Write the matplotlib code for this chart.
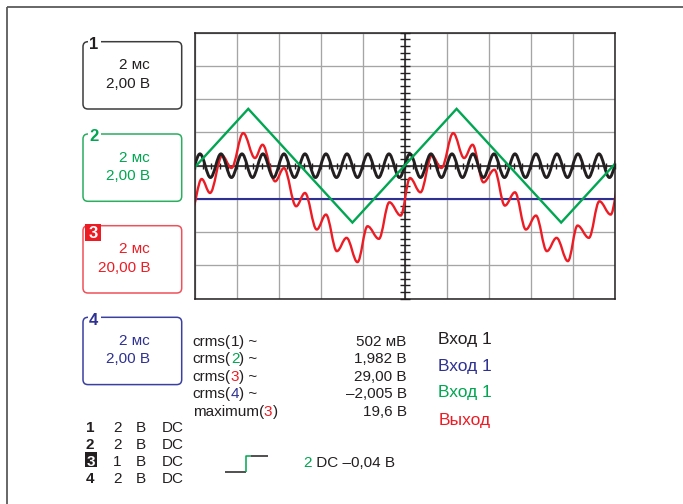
import numpy as np
import matplotlib
matplotlib.use("Agg")
import matplotlib.pyplot as plt
from matplotlib.path import Path
from matplotlib.patches import PathPatch, FancyBboxPatch, Rectangle

plt.rcParams['font.family'] = ['Liberation Sans', 'DejaVu Sans']

# ---------------- data ----------------
ms_per_div = 2.0
volts_per_div = [2.0, 2.0, 20.0, 2.0]          # channels 1..4

# channel 1 (black sine): extrema (ms, V)
ch1_t = [-0.24, 0.26, 0.76, 1.26, 1.76, 2.26, 2.76, 3.26, 3.76, 4.26,
         4.76, 5.26, 5.76, 6.26, 6.76, 7.26, 7.76, 8.26, 8.76, 9.26,
         9.76, 10.26, 10.76, 11.26, 11.76, 12.26, 12.76, 13.26, 13.76, 14.26,
         14.76, 15.26, 15.76, 16.26, 16.76, 17.26, 17.76, 18.26, 18.76, 19.26,
         19.76, 20.26]
ch1_v = [-0.71, 0.71, -0.71, 0.71, -0.71, 0.71, -0.71, 0.71, -0.71, 0.71,
         -0.71, 0.71, -0.71, 0.71, -0.71, 0.71, -0.71, 0.71, -0.71, 0.71,
         -0.71, 0.71, -0.71, 0.71, -0.71, 0.71, -0.71, 0.71, -0.71, 0.71,
         -0.71, 0.71, -0.71, 0.71, -0.71, 0.71, -0.71, 0.71, -0.71, 0.71,
         -0.71, 0.71]

# channel 2 (green triangle): vertices (ms, V)
ch2_t = [0.0, 2.56, 7.52, 12.48, 17.46, 20.0]
ch2_v = [-0.11, 3.42, -3.42, 3.42, -3.42, 0.08]

# channel 3 (red output): extrema (ms, V)
ch3_t = [-0.14, 0.34, 0.74, 1.32, 1.76, 2.32, 2.88, 3.24, 3.84, 4.26,
         4.84, 5.26, 5.82, 6.26, 6.78, 7.24, 7.76, 8.24, 8.78, 9.28,
         9.82, 10.26, 10.76, 11.30, 11.76, 12.32, 12.84, 13.24, 13.76, 14.28,
         14.78, 15.26, 15.78, 16.26, 16.78, 17.24, 17.78, 18.24, 18.78, 19.28,
         19.82, 20.26]
ch3_v = [-27.0, -8.0, -16.4, 6.0, -1.4, 19.6, 4.6, 12.6, -9.4, -1.4,
         -24.4, -16.4, -38.4, -29.4, -51.4, -43.4, -58.0, -36.4, -44.0, -22.0,
         -30.0, -7.4, -16.0, 6.0, -1.4, 19.6, 4.6, 12.6, -10.0, -2.4,
         -24.0, -16.0, -38.4, -30.0, -51.4, -43.4, -57.4, -36.0, -43.4, -21.4,
         -29.4, -7.4]

# channel 4 (blue DC level)
ch4_t = [0.0, 20.0]
ch4_v = [-2.005, -2.005]

box_time = ['2 мс', '2 мс', '2 мс', '2 мс']
box_volt = ['2,00 В', '2,00 В', '20,00 В', '2,00 В']

meas_func = ['crms', 'crms', 'crms', 'crms', 'maximum']
meas_ch = ['1', '2', '3', '4', '3']
meas_suffix = [' ~', ' ~', ' ~', ' ~', '']
meas_value = ['502 мВ', '1,982 В', '29,00 В', '–2,005 В', '19,6 В']

legend_labels = ['Вход 1', 'Вход 1', 'Вход 1', 'Выход']
legend_ch = [1, 4, 2, 3]

table_ch = ['1', '2', '3', '4']
table_scale = ['2', '2', '1', '2']
table_unit = ['В', 'В', 'В', 'В']
table_coupling = ['DC', 'DC', 'DC', 'DC']

trigger_ch = '2'
trigger_text = ' DC –0,04 В'

# ---------------- styles ----------------
C_BLACK = '#231f20'
C_GREEN = '#00a651'
C_RED = '#ed1c24'
C_BLUE = '#2e3192'
ch_color = {1: C_BLACK, 2: C_GREEN, 3: C_RED, 4: C_BLUE}
box_edge = ['#3c3c3c', '#2aae60', '#f0505a', '#3a40a0']

W, H = 683, 504
fig = plt.figure(figsize=(W / 100, H / 100), dpi=100)

# overlay axes in pixel coordinates
ov = fig.add_axes([0, 0, 1, 1])
ov.set_xlim(0, W)
ov.set_ylim(H, 0)
ov.axis('off')

# outer frame (top + left)
ov.plot([6.5, W], [6.5, 6.5], color='#5a5a5a', lw=1.3, solid_capstyle='butt')
ov.plot([6.5, 6.5], [6.5, H], color='#5a5a5a', lw=1.3, solid_capstyle='butt')

# ---------------- scope screen ----------------
gx0, gx1, gy0, gy1 = 194.5, 614.5, 32.7, 298.7
ax = fig.add_axes([gx0 / W, 1 - gy1 / H, (gx1 - gx0) / W, (gy1 - gy0) / H])
ax.set_xlim(0, 10 * ms_per_div)
ax.set_ylim(-4, 4)
ax.set_xticks(np.arange(0, 10 * ms_per_div + 0.01, ms_per_div))
ax.set_yticks(np.arange(-4, 5, 1))
ax.tick_params(length=0, labelbottom=False, labelleft=False)
ax.grid(True, color='#a5a5a5', lw=0.95)
ax.set_axisbelow(True)
for s in ax.spines.values():
    s.set_color(C_BLACK)
    s.set_linewidth(1.1)
    s.set_zorder(6)

ax.axhline(0, color=C_BLACK, lw=1.1, zorder=1)
ax.axvline(5 * ms_per_div, color=C_BLACK, lw=1.1, zorder=1)
tx = np.arange(0, 10 * ms_per_div + 0.01, ms_per_div / 5)
ax.plot(tx, np.zeros_like(tx), ls='none', marker='|', ms=5, mew=1.0,
        color=C_BLACK, zorder=1, clip_on=False)
ty = np.arange(-4, 4.01, 0.2)
ax.plot(np.full_like(ty, 5 * ms_per_div), ty, ls='none', marker='_', ms=6.5,
        mew=1.0, color=C_BLACK, zorder=1, clip_on=False)


def smooth_trace(t, v, scale, k=0.36):
    pts = [(t[0], v[0] / scale)]
    codes = [Path.MOVETO]
    for i in range(len(t) - 1):
        dt = t[i + 1] - t[i]
        y0, y1 = v[i] / scale, v[i + 1] / scale
        pts += [(t[i] + k * dt, y0), (t[i + 1] - k * dt, y1), (t[i + 1], y1)]
        codes += [Path.CURVE4] * 3
    return Path(pts, codes)


ax.plot(ch4_t, np.array(ch4_v) / volts_per_div[3], color=C_BLUE, lw=1.5, zorder=2)
ax.add_patch(PathPatch(smooth_trace(ch3_t, ch3_v, volts_per_div[2]),
                       fc='none', ec=C_RED, lw=1.7, zorder=3))
ax.add_patch(PathPatch(smooth_trace(ch1_t, ch1_v, volts_per_div[0]),
                       fc='none', ec=C_BLACK, lw=2.1, zorder=4))
ax.plot(ch2_t, np.array(ch2_v) / volts_per_div[1], color=C_GREEN, lw=1.7,
        zorder=5, solid_joinstyle='miter')

# ---------------- channel boxes ----------------
box_tops = [41.7, 134.0, 225.7, 317.3]
box_h = 67.3
for i in range(4):
    col = ch_color[i + 1]
    top = box_tops[i]
    ov.add_patch(FancyBboxPatch((83, top), 98.7, box_h,
                                boxstyle='round,pad=0,rounding_size=5',
                                fc='none', ec=box_edge[i], lw=1.1))
    ov.text(150, top + 27.6, box_time[i], ha='right', va='baseline',
            fontsize=11, color=col)
    ov.text(150, top + 46.0, box_volt[i], ha='right', va='baseline',
            fontsize=11, color=col)
    if i == 2:
        ov.add_patch(Rectangle((85, top - 1.7), 15.7, 16.7, fc=C_RED, ec='none'))
        ov.text(92.9, top + 12.6, '3', ha='center', va='baseline',
                fontsize=12, fontweight='bold', color='white')
    else:
        ov.add_patch(Rectangle((87.5, top - 3), 13, 6, fc='white', ec='none'))
        ov.text(93.8, top + 7.3, str(i + 1), ha='center', va='baseline',
                fontsize=12, fontweight='bold', color=col)

# ---------------- measurements ----------------
meas_base = [346.0, 363.4, 380.8, 398.2, 415.8]
for i in range(5):
    t1 = ov.text(192.7, meas_base[i], meas_func[i] + '(', ha='left',
                 va='baseline', fontsize=11, color=C_BLACK)
    cnum = int(meas_ch[i])
    t2 = ov.annotate(meas_ch[i], xy=(1, 0), xycoords=t1, ha='left', va='bottom',
                     fontsize=11, color=ch_color[cnum])
    ov.annotate(')' + meas_suffix[i], xy=(1, 0), xycoords=t2, ha='left',
                va='bottom', fontsize=11, color=C_BLACK)
    ov.text(406.7, meas_base[i], meas_value[i], ha='right', va='baseline',
            fontsize=11, color=C_BLACK)

leg_base = [344.0, 371.0, 397.3, 424.5]
for i in range(4):
    ov.text(438.3, leg_base[i], legend_labels[i], ha='left', va='baseline',
            fontsize=12.5, color=ch_color[legend_ch[i]])

# ---------------- bottom channel table ----------------
tab_base = [431.7, 448.6, 466.2, 483.3]
for i in range(4):
    if table_ch[i] == '3':
        ov.add_patch(Rectangle((85, tab_base[i] - 13.8), 11.7, 14.6,
                               fc=C_BLACK, ec='none'))
        ov.text(90.9, tab_base[i], table_ch[i], ha='center', va='baseline',
                fontsize=11, fontweight='bold', color='white')
    else:
        ov.text(90.0, tab_base[i], table_ch[i], ha='center', va='baseline',
                fontsize=11, fontweight='bold', color=C_BLACK)
    ov.text(117.2, tab_base[i], table_scale[i], ha='center', va='baseline',
            fontsize=11, color=C_BLACK)
    ov.text(141.2, tab_base[i], table_unit[i], ha='center', va='baseline',
            fontsize=11, color=C_BLACK)
    ov.text(161.7, tab_base[i], table_coupling[i], ha='left', va='baseline',
            fontsize=11, color=C_BLACK)

# trigger symbol
ov.plot([225, 246], [471.7, 471.7], color=C_BLACK, lw=1.1, solid_capstyle='butt')
ov.plot([246, 246, 251], [471.7, 456.3, 456.3], color=C_GREEN, lw=1.1,
        solid_capstyle='butt')
ov.plot([251, 268], [456.3, 456.3], color=C_BLACK, lw=1.1, solid_capstyle='butt')

tt = ov.text(303.3, 466.7, trigger_ch, ha='left', va='baseline', fontsize=11,
             color=C_GREEN)
ov.annotate(trigger_text, xy=(1, 0), xycoords=tt, ha='left', va='bottom',
            fontsize=11, color=C_BLACK)

fig.savefig('out.png', dpi=100)
